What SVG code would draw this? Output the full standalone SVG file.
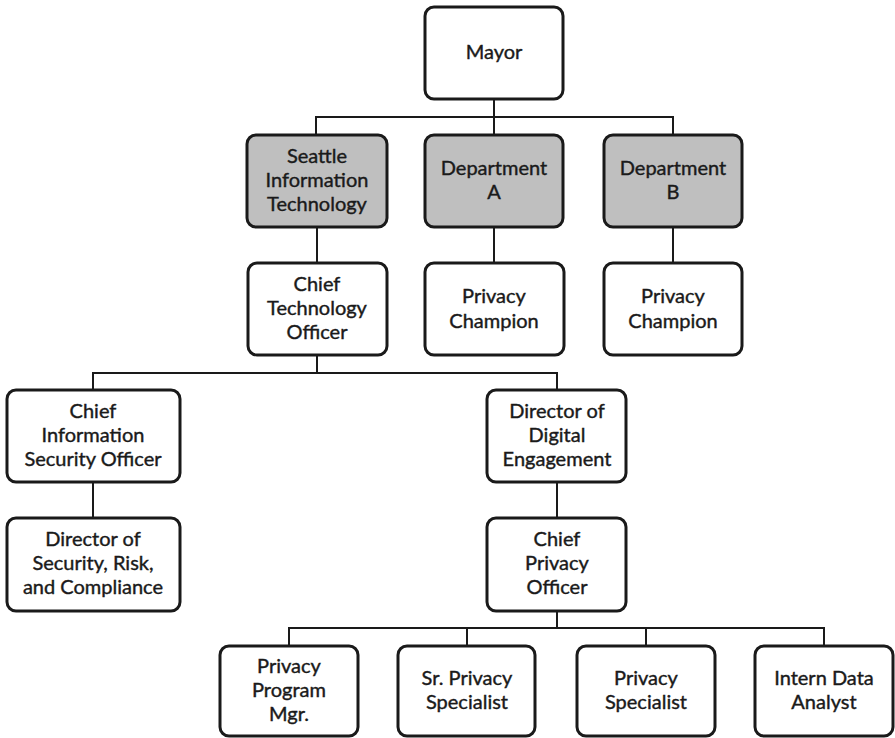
<svg xmlns="http://www.w3.org/2000/svg" width="895" height="738" viewBox="0 0 895 738">
<style>
.box{fill:#fff;stroke:#1a1a1a;stroke-width:3}
.dept{fill:#bfbfbf}
.t{font-family:Lato,"Open Sans","Liberation Sans",sans-serif;font-size:20px;fill:#1a1a1a;stroke:#1a1a1a;stroke-width:0.4;text-anchor:middle}
.c{fill:none;stroke:#1a1a1a;stroke-width:2}
</style>
<rect width="895" height="738" fill="#fff"/>
<g id="connectors">
<path class="c" d="M494 99V117M316 135V117H673V135M494 117V135"/>
<path class="c" d="M317 227V263M494 227V263M673 227V263"/>
<path class="c" d="M317 355V373M93 390V373H557V390"/>
<path class="c" d="M93 482V518M557 482V518"/>
<path class="c" d="M557 611V628M289 646V628H824V646M467 628V646M646 628V646"/>
</g>
<g id="mayor"><rect class="box" x="425" y="7" width="138" height="92" rx="9"/><text class="t" x="494" y="59">Mayor</text></g>
<g id="seattle-it"><rect class="box dept" x="247" y="135" width="140" height="92" rx="9"/><text class="t" x="317"><tspan x="317" y="163">Seattle</tspan><tspan x="317" y="187">Information</tspan><tspan x="317" y="211">Technology</tspan></text></g>
<g id="dept-a"><rect class="box dept" x="425" y="135" width="138" height="92" rx="9"/><text class="t" x="494"><tspan x="494" y="175">Department</tspan><tspan x="494" y="199">A</tspan></text></g>
<g id="dept-b"><rect class="box dept" x="604" y="135" width="138" height="92" rx="9"/><text class="t" x="673"><tspan x="673" y="175">Department</tspan><tspan x="673" y="199">B</tspan></text></g>
<g id="cto"><rect class="box" x="248" y="263" width="139" height="92" rx="9"/><text class="t" x="317"><tspan x="317" y="291">Chief</tspan><tspan x="317" y="315">Technology</tspan><tspan x="317" y="339">Officer</tspan></text></g>
<g id="privacy-champion-a"><rect class="box" x="425" y="263" width="139" height="92" rx="9"/><text class="t" x="494"><tspan x="494" y="303">Privacy</tspan><tspan x="494" y="328">Champion</tspan></text></g>
<g id="privacy-champion-b"><rect class="box" x="604" y="263" width="138" height="92" rx="9"/><text class="t" x="673"><tspan x="673" y="303">Privacy</tspan><tspan x="673" y="328">Champion</tspan></text></g>
<g id="ciso"><rect class="box" x="7" y="390" width="173" height="92" rx="9"/><text class="t" x="93"><tspan x="93" y="418">Chief</tspan><tspan x="93" y="442">Information</tspan><tspan x="93" y="466">Security Officer</tspan></text></g>
<g id="director-digital"><rect class="box" x="487" y="390" width="139" height="92" rx="9"/><text class="t" x="557"><tspan x="557" y="418">Director of</tspan><tspan x="557" y="442">Digital</tspan><tspan x="557" y="466">Engagement</tspan></text></g>
<g id="director-security"><rect class="box" x="7" y="518" width="173" height="93" rx="9"/><text class="t" x="93"><tspan x="93" y="546">Director of</tspan><tspan x="93" y="570">Security, Risk,</tspan><tspan x="93" y="594">and Compliance</tspan></text></g>
<g id="cpo"><rect class="box" x="487" y="518" width="139" height="93" rx="9"/><text class="t" x="557"><tspan x="557" y="546">Chief</tspan><tspan x="557" y="570">Privacy</tspan><tspan x="557" y="594">Officer</tspan></text></g>
<g id="privacy-program-mgr"><rect class="box" x="220" y="646" width="138" height="90" rx="9"/><text class="t" x="289"><tspan x="289" y="673">Privacy</tspan><tspan x="289" y="697">Program</tspan><tspan x="289" y="721">Mgr.</tspan></text></g>
<g id="sr-privacy-specialist"><rect class="box" x="398" y="646" width="137" height="90" rx="9"/><text class="t" x="467"><tspan x="467" y="685">Sr. Privacy</tspan><tspan x="467" y="709">Specialist</tspan></text></g>
<g id="privacy-specialist"><rect class="box" x="577" y="646" width="138" height="90" rx="9"/><text class="t" x="646"><tspan x="646" y="685">Privacy</tspan><tspan x="646" y="709">Specialist</tspan></text></g>
<g id="intern-data-analyst"><rect class="box" x="755" y="646" width="138" height="90" rx="9"/><text class="t" x="824"><tspan x="824" y="685">Intern Data</tspan><tspan x="824" y="709">Analyst</tspan></text></g>
</svg>
